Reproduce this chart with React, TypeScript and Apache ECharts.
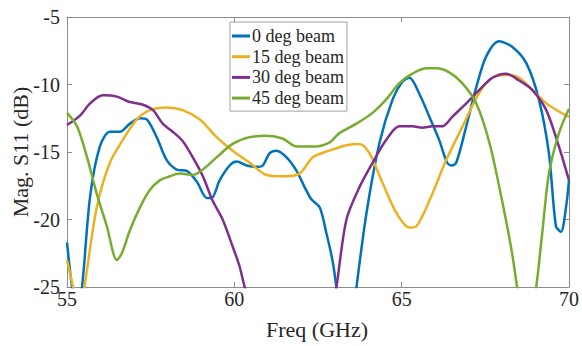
import React, { useEffect, useRef } from "react";
import * as echarts from "echarts";

const seriesNames = ["0 deg beam", "15 deg beam", "30 deg beam", "45 deg beam"];
const seriesColors = ["#0072BD", "#EDB120", "#7E2F8E", "#77AC30"];

const freq0 = [55, 55.15, 55.3, 55.45, 55.69, 55.98, 56.28, 56.58, 56.88, 57.18, 57.39, 57.68, 57.98, 58.28, 58.58, 58.88, 59.18, 59.32, 59.56, 59.86, 60.07, 60.37, 60.67, 60.85, 61.05, 61.26, 61.56, 61.86, 62.1, 62.3, 62.55, 62.75, 62.93, 63.05, 63.35, 63.65, 63.95, 64.34, 64.73, 65.02, 65.23, 65.53, 65.83, 66.12, 66.36, 66.5, 66.63, 66.93, 67.23, 67.53, 67.91, 68.3, 68.72, 69.1, 69.4, 69.61, 69.76, 69.91, 70];
const s11_0 = [-21.7, -25, -27, -25, -18.3, -14.6, -13.5, -13.5, -12.9, -12.5, -12.6, -13.9, -15.6, -16.3, -16.4, -17.2, -18.4, -18.4, -17.1, -16.0, -15.7, -16.0, -16.1, -16.0, -15.1, -14.9, -15.4, -16.4, -17.6, -18.5, -19.1, -21.0, -23.0, -25, -31, -25, -19.5, -14.3, -11.1, -9.8, -9.5, -10.7, -12.4, -14.1, -15.8, -16.0, -15.8, -13.1, -10.2, -7.9, -6.8, -7.2, -8.4, -11.1, -15.1, -20.5, -20.9, -19.1, -17.1];

const freq15 = [55, 55.2, 55.38, 55.55, 55.89, 56.28, 56.67, 57.08, 57.48, 57.98, 58.46, 58.97, 59.47, 59.95, 60.46, 60.96, 61.44, 61.95, 62.34, 62.84, 63.35, 63.74, 64.04, 64.43, 64.84, 65.23, 65.44, 65.83, 66.33, 66.82, 67.32, 67.71, 68.12, 68.51, 68.9, 69.32, 69.7, 70];
const s11_15 = [-23.0, -25.2, -27, -24.5, -19.1, -15.8, -14.1, -12.6, -11.9, -11.7, -11.9, -12.6, -13.9, -14.9, -15.8, -16.7, -16.8, -16.6, -15.4, -14.9, -14.5, -14.4, -15.1, -17.3, -19.5, -20.6, -20.5, -18.6, -15.6, -13.1, -10.6, -9.5, -9.3, -9.5, -10.4, -11.4, -12.0, -12.4];

const freq30 = [55, 55.39, 55.69, 56.07, 56.49, 56.88, 57.27, 57.57, 57.86, 58.16, 58.46, 58.76, 59.06, 59.35, 59.65, 59.95, 60.16, 60.31, 60.8, 61.7, 62.7, 63.05, 63.35, 63.74, 64.13, 64.54, 64.93, 65.32, 65.62, 65.92, 66.21, 66.51, 66.93, 67.32, 67.71, 68.12, 68.51, 68.9, 69.32, 69.7, 70];
const s11_30 = [-13.0, -12.3, -11.4, -10.8, -10.9, -11.3, -11.5, -11.9, -12.9, -13.5, -14.2, -15.4, -16.8, -18.6, -20.0, -22.0, -23.5, -25, -28.5, -33, -30, -25, -20.0, -17.6, -15.8, -14.1, -13.1, -13.1, -13.2, -13.1, -13.1, -12.4, -11.4, -10.4, -9.5, -9.2, -9.7, -10.4, -11.9, -14.6, -17.1];

const freq45 = [55, 55.3, 55.6, 55.89, 56.19, 56.49, 56.64, 56.88, 57.18, 57.48, 57.77, 58.07, 58.37, 58.76, 59.06, 59.47, 59.95, 60.46, 60.96, 61.44, 61.86, 62.34, 62.84, 63.14, 63.65, 64.13, 64.54, 64.93, 65.32, 65.74, 66.04, 66.42, 66.81, 67.23, 67.62, 68.0, 68.3, 68.45, 68.75, 69.02, 69.2, 69.4, 69.7, 70];
const s11_45 = [-12.1, -13.1, -15.4, -18.1, -20.5, -23.0, -22.5, -20.8, -19.1, -17.8, -17.1, -16.8, -16.6, -16.7, -16.3, -15.4, -14.4, -13.9, -13.8, -14.0, -14.6, -14.6, -14.3, -13.6, -12.9, -12.1, -11.1, -9.9, -9.2, -8.8, -8.8, -9.1, -9.9, -11.4, -14.3, -18.6, -22.5, -25, -29, -25, -21.0, -16.6, -13.6, -11.8];

const xTicks = [55, 60, 65, 70];
const yTicks = [-25, -20, -15, -10, -5];

const freqs = [freq0, freq15, freq30, freq45];
const values = [s11_0, s11_15, s11_30, s11_45];

const FONT = "Liberation Serif";
const TXT = "#262626";
const AX = "#8c8c8c";

export default function App() {
  const ref = useRef<HTMLDivElement>(null);
  useEffect(() => {
    if (!ref.current) return;
    const chart = echarts.init(ref.current, null, { renderer: "svg" });
    const common = {
      axisLine: { show: true, lineStyle: { color: AX, width: 1 } },
      axisTick: { show: true, inside: true, length: 5, lineStyle: { color: AX } },
      splitLine: { show: false },
    };
    chart.setOption({
      animation: false,
      backgroundColor: "#ffffff",
      grid: { left: 67, top: 17, right: 12, bottom: 59, containLabel: false },
      xAxis: [
        {
          type: "value",
          min: xTicks[0],
          max: xTicks[xTicks.length - 1],
          interval: 5,
          position: "bottom",
          ...common,
          axisLabel: { color: TXT, fontFamily: FONT, fontSize: 20, margin: 2 },
        },
        {
          type: "value",
          min: xTicks[0],
          max: xTicks[xTicks.length - 1],
          interval: 5,
          position: "top",
          ...common,
          axisLabel: { show: false },
        },
      ],
      yAxis: [
        {
          type: "value",
          min: yTicks[0],
          max: yTicks[yTicks.length - 1],
          interval: 5,
          position: "left",
          ...common,
          axisLabel: { color: TXT, fontFamily: FONT, fontSize: 20, margin: 7 },
        },
        {
          type: "value",
          min: yTicks[0],
          max: yTicks[yTicks.length - 1],
          interval: 5,
          position: "right",
          ...common,
          axisLabel: { show: false },
        },
      ],
      legend: {
        show: true,
        orient: "vertical",
        left: 230,
        top: 22,
        data: seriesNames,
        backgroundColor: "#ffffff",
        borderColor: "#a0a0a0",
        borderWidth: 1,
        padding: [5, 3, 4, 2],
        itemGap: 2.7,
        itemWidth: 18,
        itemHeight: 3,
        icon: "rect",
        textStyle: { color: TXT, fontFamily: FONT, fontSize: 18, lineHeight: 18, padding: [0, 0, 0, -3] },
      },
      graphic: [
        {
          type: "text",
          x: 317,
          y: 329,
          style: {
            text: "Freq (GHz)",
            fontFamily: FONT,
            fontSize: 22,
            fill: TXT,
            textAlign: "center",
            textVerticalAlign: "middle",
          },
        },
        {
          type: "text",
          x: 20,
          y: 152,
          rotation: Math.PI / 2,
          style: {
            text: "Mag. S11 (dB)",
            fontFamily: FONT,
            fontSize: 22,
            fill: TXT,
            textAlign: "center",
            textVerticalAlign: "middle",
          },
        },
      ],
      series: seriesNames.map((name, i) => ({
        name,
        type: "line",
        xAxisIndex: 0,
        yAxisIndex: 0,
        data: freqs[i].map((f, j) => [f, values[i][j]]),
        smooth: 0.3,
        symbol: "none",
        clip: true,
        lineStyle: { color: seriesColors[i], width: 2.5 },
        itemStyle: { color: seriesColors[i] },
      })),
    });
    return () => chart.dispose();
  }, []);
  return (
    <div
      ref={ref}
      style={{ position: "absolute", left: 0, top: 0, width: 582, height: 346 }}
    />
  );
}
